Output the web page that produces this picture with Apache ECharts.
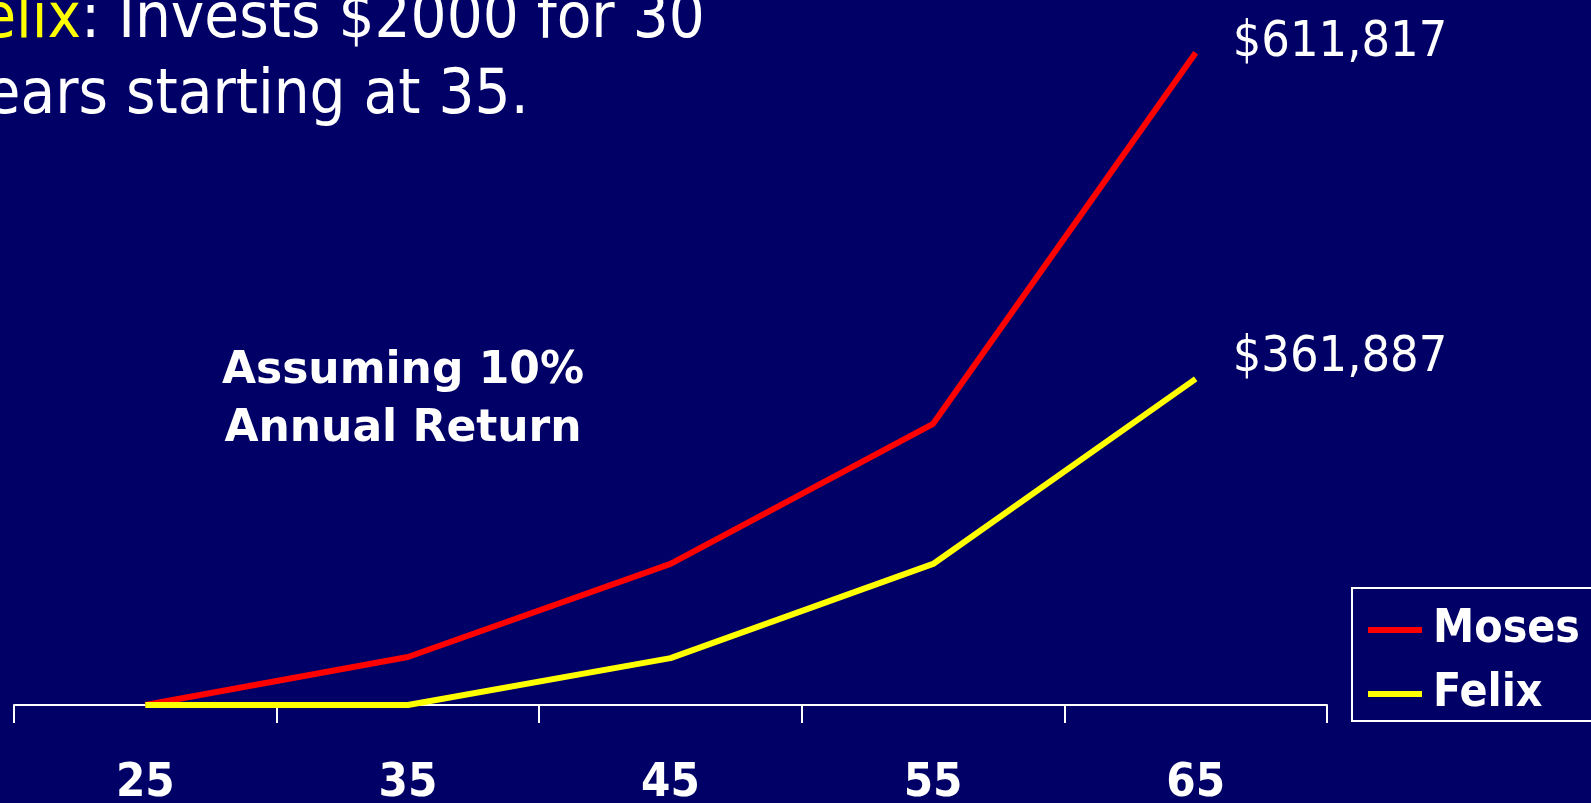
<!DOCTYPE html>
<html>
<head>
<meta charset="utf-8">
<style>
  html, body { margin: 0; padding: 0; background: #000066; }
  #main { width: 1591px; height: 803px; }
</style>
<script src="https://cdn.jsdelivr.net/npm/echarts@6/dist/echarts.min.js"></script>
</head>
<body>
<div id="main"></div>
<script>
var FONT = '"DejaVu Sans Condensed", "DejaVu Sans", sans-serif';
var FONT_WIDE = '"DejaVu Sans", sans-serif';

// ages on the x axis
var ages = ['25', '35', '45', '55', '65'];
// balances
var mosesValues = [0, 45000, 132300, 263700, 611817];
var felixValues = [0, 0, 44000, 132300, 305900];
// labels written at the end of each line
var endLabels = ['$611,817', '$361,887'];
var seriesNames = ['Moses', 'Felix'];
var seriesColors = ['#ff0000', '#ffff00'];

var chart = echarts.init(document.getElementById('main'));

var makeSeries = function(i, values, offset){
    return {
        name: seriesNames[i],
        type: 'line',
        data: values,
        symbol: 'none',
        color: seriesColors[i],
        lineStyle: { color: seriesColors[i], width: 6 },
        endLabel: {
            show: true,
            formatter: endLabels[i],
            color: '#ffffff',
            fontFamily: FONT,
            fontSize: 50,
            offset: offset
        }
    };
};

chart.setOption({
    backgroundColor: '#000066',
    animation: false,
    title: {
        text: '{y|Felix}: Invests $2000 for 30\nyears starting at 35.',
        left: -48,
        top: -17,
        padding: 0,
        textStyle: {
            color: '#ffffff',
            fontFamily: FONT,
            fontWeight: 'normal',
            fontSize: 63,
            lineHeight: 76,
            rich: {
                y: { color: '#ffff00', fontFamily: FONT, fontSize: 63, lineHeight: 76 }
            }
        }
    },
    graphic: [{
        type: 'text',
        style: {
            x: 403,
            y: 401,
            text: 'Assuming 10%\nAnnual Return',
            fill: '#ffffff',
            font: 'bold 44px ' + FONT_WIDE,
            align: 'center',
            verticalAlign: 'middle',
            lineHeight: 58
        }
    }],
    legend: {
        orient: 'vertical',
        left: 1352,
        top: 588,
        data: seriesNames,
        icon: 'rect',
        itemWidth: 54,
        itemHeight: 6,
        itemGap: 18,
        padding: [19, 80, 4, 16],
        borderColor: '#ffffff',
        borderWidth: 2,
        textStyle: {
            color: '#ffffff',
            fontFamily: FONT,
            fontWeight: 'bold',
            fontSize: 46,
            padding: [0, 0, 0, 6]
        }
    },
    grid: { left: 14, right: 264, top: 12, bottom: 98, outerBoundsMode: 'none' },
    xAxis: {
        type: 'category',
        data: ages,
        boundaryGap: true,
        axisLine: { lineStyle: { color: '#ffffff', width: 2 } },
        axisTick: {
            show: true,
            interval: 0,
            length: 18,
            lineStyle: { color: '#ffffff', width: 2 }
        },
        axisLabel: {
            color: '#ffffff',
            fontFamily: FONT,
            fontWeight: 'bold',
            fontSize: 47,
            margin: 55
        }
    },
    yAxis: {
        type: 'value',
        min: 0,
        max: 650000,
        show: false,
        splitLine: { show: false }
    },
    series: [
        makeSeries(0, mosesValues, [29, -10]),
        makeSeries(1, felixValues, [29, -21])
    ]
});
</script>
</body>
</html>
